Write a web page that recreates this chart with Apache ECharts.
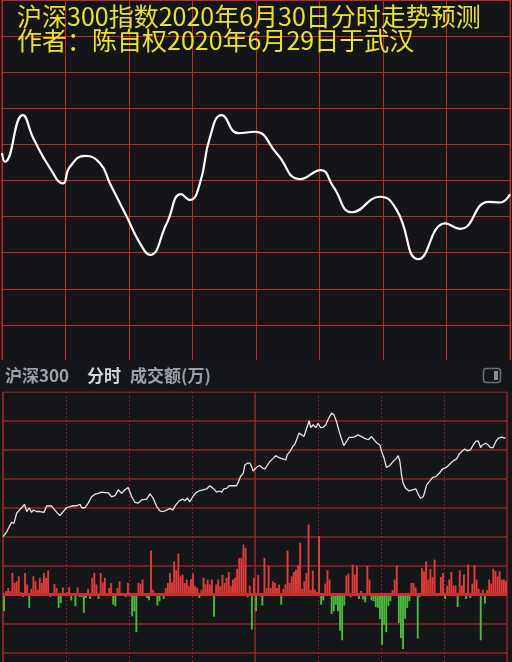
<!DOCTYPE html>
<html>
<head>
<meta charset="utf-8">
<script src="https://cdn.jsdelivr.net/npm/echarts@6/dist/echarts.min.js"></script>
<style>
html, body { margin: 0; padding: 0; background: #151619; overflow: hidden; }
/* 画布比窗口略高，下方的格子在截图外继续 */
#chart { width: 512px; height: 700px; }
</style>
</head>
<body>
<div id="chart"></div>
<script>
// 上半部分：预测曲线（横轴为交易分钟 0-240，纵轴为格数）
var predTime = [0, 1.4, 9.8, 14.8, 22.7, 28.7, 32.1, 39.2, 46.3, 51, 58.9, 65.2, 69.9, 77.8, 84.6, 88.8,
  93.5, 98.3, 103.8, 111.6, 119.5, 129.8, 140.8, 150.6, 156.5, 165.5, 178.6, 186.5, 196.8, 209.4,
  216.4, 229.8, 235.3, 240];
var predValue = [5.76, 5.52, 6.81, 6.17, 5.34, 4.92, 5.38, 5.68, 5.48, 4.92, 4.0, 3.26, 2.94, 3.81, 4.62, 4.46,
  4.92, 6.21, 6.81, 6.31, 6.35, 5.75, 5.04, 5.29, 4.83, 4.12, 4.55, 4.18, 2.82, 3.81,
  3.66, 4.41, 4.39, 4.62];

// 下半部分：实际分时走势
var priceTime = [0, 1.8, 3, 4.1, 5.2, 6.5, 7.8, 8.9, 10.2, 11.3, 12.5, 13.6, 14.4, 16, 17.6, 19.5, 20.8, 23.2,
  24, 25.6, 27.1, 28.7, 30.3, 32.7, 35.1, 36.7, 37.5, 39, 40.6, 42.2, 43.8, 45.4, 47, 48.6, 50.1, 51.7,
  53.3, 54.9, 56.5, 58.1, 59.6, 61.3, 62.8, 64.4, 66, 68.4, 70, 71.5, 73.2, 74.7, 76.3, 77.9, 79.5,
  80.8, 82.3, 83.9, 85.5, 86.6, 87.7, 89, 89.8, 90.9, 92.2, 93.4, 94.2, 95.3, 97, 98.5, 99.3, 100.4,
  101.7, 103, 104.1, 105.2, 106.5, 107.7, 109.6, 111.2, 112, 113.1, 114.4, 115.2, 116.3, 117.6, 118.4,
  119.1, 120, 121.1, 122.3, 123.6, 124.7, 125.8, 127.1, 128.4, 129.9, 131.5, 133.1, 134.7, 135.3,
  136.6, 137.9, 139, 139.8, 141, 142.2, 143.3, 144.6, 145.8, 146.5, 147.7, 149, 150.1, 151.2, 152.5,
  153.7, 154.9, 156.5, 157.6, 158.8, 160.1, 161.2, 162.3,
  163.6, 164.8, 166.5, 167.6, 169.1, 170.7, 172.3, 173.9, 175.5, 177.1, 178.2, 179.5, 180.3, 181.4,
  182.6, 184.2, 185.8, 187.1, 188.2, 189, 189.8, 190.5, 191.8, 193.4, 195, 196.6, 197.7, 198.8, 200.1,
  200.9, 201.7, 203.3, 204.5, 206.1, 207.7, 209.3, 210.4, 211.5, 212.8, 214.4, 216, 217.2, 218.8,
  219.9, 221, 222.6, 223.9, 225.1, 226.3, 227.4, 228.3, 229.9, 231, 232.1, 233.4, 234.7, 235.8, 237.4, 239.3];
var priceValue = [0, 0.17, 0.35, 0.5, 0.46, 0.81, 0.92, 1.0, 1.12, 0.87, 1.0, 0.84, 0.92, 0.87, 0.87, 0.84, 1.06, 1.06,
  0.98, 0.84, 0.73, 0.87, 1.0, 1.06, 1.07, 1.12, 1.0, 1.0, 1.16, 1.38, 1.47, 1.5, 1.54, 1.52, 1.52, 1.38,
  1.42, 1.62, 1.5, 1.62, 1.7, 1.38, 1.19, 1.16, 1.27, 1.3, 1.48, 1.33, 1.04, 0.89, 0.87, 0.92, 0.98,
  0.92, 1.1, 1.24, 1.3, 1.24, 1.33, 1.21, 1.27, 1.44, 1.54, 1.58, 1.54, 1.62, 1.65, 1.76, 1.81, 1.65,
  1.54, 1.58, 1.54, 1.65, 1.67, 1.76, 1.76, 1.76, 1.88, 2.08, 2.19, 2.48, 2.54, 2.54, 2.42,
  2.27, 2.34, 2.42, 2.46, 2.37, 2.34, 2.46, 2.6, 2.69, 2.8, 2.73, 2.69, 2.65, 2.83,
  2.94, 3.11, 3.2, 3.35, 3.58, 3.52, 3.46, 3.75, 4.01, 3.77, 3.87, 3.77, 3.92, 3.77, 3.78,
  3.87, 4.07, 4.27, 4.21, 3.98, 3.63, 3.38, 3.15,
  3.29, 3.43, 3.43, 3.46, 3.52, 3.46, 3.4, 3.35, 3.46, 3.31, 3.23, 3.17, 2.94, 2.73,
  2.39, 2.46, 2.6, 2.69, 2.8, 2.6, 2.13, 1.85, 1.67, 1.58, 1.62, 1.65, 1.47, 1.33, 1.38,
  1.56, 1.79, 1.93, 2.04, 2.08, 2.19, 2.34, 2.37, 2.42, 2.51, 2.62, 2.69, 2.85, 2.97,
  3.03, 2.97, 3.0, 3.17, 3.29, 3.31, 3.08, 3.17, 3.23, 3.17, 3.08, 3.08, 3.29, 3.4, 3.44, 3.4];

// 每分钟成交额红绿柱（正为红，负为绿）
var flowValue = [-58, 12, 23, 12, 75, 40, 46, 63, 8, -8,
  75, 35, -46, 20, 63, 46, 17, 58, 40, 75,
  58, 84, -8, 0, 37, 23, -46, -29, 25, 0,
  8, 26, -20, 0, -40, 25, -8, -8, -63, -12,
  20, -15, 58, 75, 35, -15, 75, 42, 58, 0,
  23, 40, -35, -40, 23, 46, 0, 0, -8, 40,
  0, -75, -58, -130, 40, 37, 52, 0, -12, -20,
  152, 17, 0, -38, -23, 0, -15, 23, 40, 75,
  43, 115, 84, 142, 63, 69, 40, 52, 29, 54,
  73, 29, 23, -12, 17, 58, 35, 52, 35, 52,
  -77, 35, 52, 29, 68, 40, 58, 78, 29, 52,
  58, 89, 127, 127, 173, 161, -9, 31, -121, 58,
  -58, 67, -6, -38, 127, 23, 100, 23, 46, 40,
  23, 35, -35, 20, 35, 152, 40, 63, 78, 86,
  101, 179, 20, 46, 75, 242, 17, 83, 17, 8,
  202, -35, -20, 38, 84, 52, -67, -58, -35, -58,
  -125, -158, -38, 66, 73, -9, 104, 69, 100, -15,
  12, -17, -27, 100, 52, -20, -23, -43, -46, -84,
  -173, -104, -130, -40, -23, 15, 52, 100, -98, -150,
  -188, -84, -46, -23, 40, 40, 25, -152, -8, 92,
  81, 115, 52, 89, 61, 121, -6, 0, 61, 75,
  -15, 31, 52, 78, 31, 31, -43, 84, 31, 69,
  -15, 104, -12, 38, 101, 52, 20, -158, 17, -31,
  15, 52, 38, 89, 81, 63, 81, 52, 52, 46];

var pred = predTime.map(function (t, i) { return [t, predValue[i]]; });
var price = priceTime.map(function (t, i) { return [t, priceValue[i]]; });
var flow = flowValue.map(function (v, i) { return [i + 0.5, v]; });

var topRed = '#c2282a';
var lowRed = '#8e2525';
var cjk = 'Noto Sans CJK SC';

var myChart = echarts.init(document.getElementById('chart'));
myChart.setOption({
  backgroundColor: '#151619',
  animation: false,
  title: [
    {
      text: '沪深300指数2020年6月30日分时走势预测\n作者：陈自权2020年6月29日于武汉',
      left: 17,
      top: 4,
      padding: 0,
      textStyle: { color: '#e9e231', fontSize: 25, fontWeight: 'normal', fontFamily: cjk, lineHeight: 24.5 }
    },
    {
      text: '{a|沪深300}{b|分时}{a|成交额(万)}',
      left: 5,
      top: 366,
      padding: 0,
      z: 8,
      textStyle: {
        lineHeight: 20,
        rich: {
          a: { color: '#9aa2aa', fontSize: 17, fontFamily: cjk, lineHeight: 20 },
          b: { color: '#d0d6dc', fontSize: 17, fontFamily: cjk, lineHeight: 20, padding: [0, 9, 0, 18] }
        }
      }
    }
  ],
  graphic: [
    // 中间的标题栏
    { type: 'rect', z: 5, shape: { x: 0, y: 360, width: 512, height: 31.5 }, style: { fill: '#151619' } },
    { type: 'rect', z: 7, shape: { x: 483.5, y: 368.5, width: 17, height: 14, r: 3 },
      style: { fill: 'none', stroke: '#6b7177', lineWidth: 1.5 } },
    { type: 'rect', z: 7, shape: { x: 494, y: 371, width: 4, height: 9 }, style: { fill: '#8a9096' } }
  ],
  grid: [
    { left: 2, top: 0, width: 508, height: 361, show: true, backgroundColor: '#141518', borderColor: topRed, borderWidth: 1 },
    { left: 3, top: 392, width: 504, height: 289.4 }
  ],
  xAxis: [
    {
      gridIndex: 0, type: 'value', min: 0, max: 240, interval: 30,
      axisLine: { show: false }, axisTick: { show: false }, axisLabel: { show: false },
      splitLine: { lineStyle: { color: topRed, width: 1 } }
    },
    {
      gridIndex: 1, type: 'value', min: 0, max: 240, interval: 30,
      axisLine: { show: false }, axisTick: { show: false }, axisLabel: { show: false },
      splitLine: { lineStyle: { color: '#a02828', width: 1, type: [1.5, 2.5] } }
    },
    {
      gridIndex: 1, type: 'value', min: 0, max: 240, interval: 120,
      axisLine: { show: false }, axisTick: { show: false }, axisLabel: { show: false },
      splitLine: { lineStyle: { color: lowRed, width: 1.5 } }
    }
  ],
  yAxis: [
    {
      gridIndex: 0, type: 'value', min: 0, max: 10, interval: 1,
      axisLine: { show: false }, axisTick: { show: false }, axisLabel: { show: false },
      splitLine: { lineStyle: { color: topRed, width: 1 } }
    },
    {
      gridIndex: 1, type: 'value', min: -300, max: 700, interval: 100,
      axisLine: { show: true, onZero: false, lineStyle: { color: lowRed, width: 1.5 } },
      axisTick: { show: false }, axisLabel: { show: false },
      splitLine: { lineStyle: { color: lowRed, width: 1.5 } }
    },
    {
      gridIndex: 1, type: 'value', min: -5, max: 5, show: false, splitLine: { show: false }
    }
  ],
  series: [
    {
      name: '预测',
      type: 'line',
      xAxisIndex: 0, yAxisIndex: 0,
      data: pred,
      smooth: 0.5,
      showSymbol: false,
      lineStyle: { color: '#ffffff', width: 2.2 }
    },
    {
      name: '成交额',
      type: 'bar',
      xAxisIndex: 1, yAxisIndex: 1,
      data: flow,
      barWidth: 1.9,
      itemStyle: {
        color: function (p) { return p.value[1] >= 0 ? '#e23c3a' : '#4cb83c'; }
      },
      markLine: {
        silent: true,
        symbol: 'none',
        label: { show: false },
        lineStyle: { color: '#c8302e', width: 3, type: 'solid' },
        data: [{ yAxis: 0 }]
      }
    },
    {
      name: '分时',
      type: 'line',
      xAxisIndex: 1, yAxisIndex: 2,
      data: price,
      showSymbol: false,
      lineStyle: { color: '#e6e6e6', width: 1.3 }
    }
  ]
});
</script>
</body>
</html>
